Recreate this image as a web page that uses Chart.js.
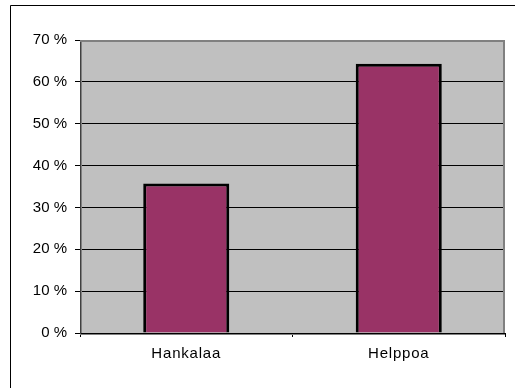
<!DOCTYPE html>
<html>
<head>
<meta charset="utf-8">
<script src="https://cdn.jsdelivr.net/npm/chart.js@4/dist/chart.umd.min.js"></script>
<style>
html,body{margin:0;padding:0;background:#fff;}
#wrap{width:515px;height:388px;position:relative;}
</style>
</head>
<body>
<div id="wrap"><canvas id="c" width="515" height="388"></canvas></div>
<script>
const categories = ["Hankalaa", "Helppoa"];
const values = [35.7, 64.3];
const yTicks = [0, 10, 20, 30, 40, 50, 60, 70];

const framePlugin = {
  id: 'frame',
  afterLayout(chart) {
    const sx = chart.scales.x;
    if (!sx._lsWrapped) {
      const orig = sx.drawLabels;
      sx.drawLabels = function (area) {
        const ctx = this.ctx;
        ctx.save();
        ctx.letterSpacing = '0.8px';
        orig.call(this, area);
        ctx.restore();
      };
      sx._lsWrapped = true;
    }
  },
  beforeDraw(chart) {
    const {ctx, chartArea: a} = chart;
    ctx.save();
    ctx.fillStyle = '#ffffff';
    ctx.fillRect(0, 0, chart.width, chart.height);
    ctx.strokeStyle = '#000000';
    ctx.lineWidth = 1;
    ctx.beginPath();
    ctx.moveTo(515, 5.5);
    ctx.lineTo(10.5, 5.5);
    ctx.lineTo(10.5, 388);
    ctx.stroke();
    ctx.fillStyle = '#C0C0C0';
    ctx.fillRect(a.left, a.top, a.right - a.left, a.bottom - a.top);
    ctx.restore();
  },
  beforeDatasetsDraw(chart) {
    const {ctx, chartArea: a} = chart;
    ctx.save();
    ctx.strokeStyle = '#808080';
    ctx.lineWidth = 2;
    ctx.beginPath();
    ctx.moveTo(a.left, a.top + 1);
    ctx.lineTo(a.right - 1, a.top + 1);
    ctx.lineTo(a.right - 1, a.bottom);
    ctx.stroke();
    ctx.lineWidth = 1;
    ctx.beginPath();
    ctx.moveTo(a.left + 1.5, a.top);
    ctx.lineTo(a.left + 1.5, a.bottom);
    ctx.moveTo(a.left, a.bottom + 1.5);
    ctx.lineTo(a.right, a.bottom + 1.5);
    ctx.stroke();
    ctx.restore();
  }
};

new Chart(document.getElementById('c'), {
  type: 'bar',
  data: {
    labels: categories,
    datasets: [{
      data: values,
      backgroundColor: '#993366',
      borderColor: '#000000',
      borderWidth: 3,
      categoryPercentage: 1,
      barPercentage: 0.405
    }]
  },
  options: {
    responsive: false,
    animation: false,
    devicePixelRatio: 1,
    layout: {padding: {top: 40, right: 10, left: 0, bottom: 0}},
    plugins: {legend: {display: false}, tooltip: {enabled: false}},
    scales: {
      x: {
        afterFit(s) { s.height = 55; },
        grid: {
          display: true,
          drawOnChartArea: false,
          drawTicks: true,
          tickLength: 4,
          offset: true,
          color: '#000000'
        },
        border: {display: true, color: '#000000', width: 1},
        ticks: {
          color: '#000000',
          padding: 8,
          font: {family: '"Liberation Sans", Arial, sans-serif', size: 15}
        }
      },
      y: {
        min: 0,
        max: 70,
        afterFit(s) { s.width = 80; },
        afterBuildTicks(s) { s.ticks = yTicks.map(v => ({value: v})); },
        grid: {
          color: (c) => (c.tick && c.tick.value === 70) ? 'rgba(0,0,0,0)' : '#000000',
          tickColor: '#000000',
          tickLength: 5,
          drawTicks: true
        },
        border: {display: true, color: '#404040', width: 1},
        ticks: {
          stepSize: 10,
          color: '#000000',
          padding: 8,
          font: {family: '"Liberation Sans", Arial, sans-serif', size: 15},
          callback: (v) => v + ' %'
        }
      }
    }
  },
  plugins: [framePlugin]
});
</script>
</body>
</html>
